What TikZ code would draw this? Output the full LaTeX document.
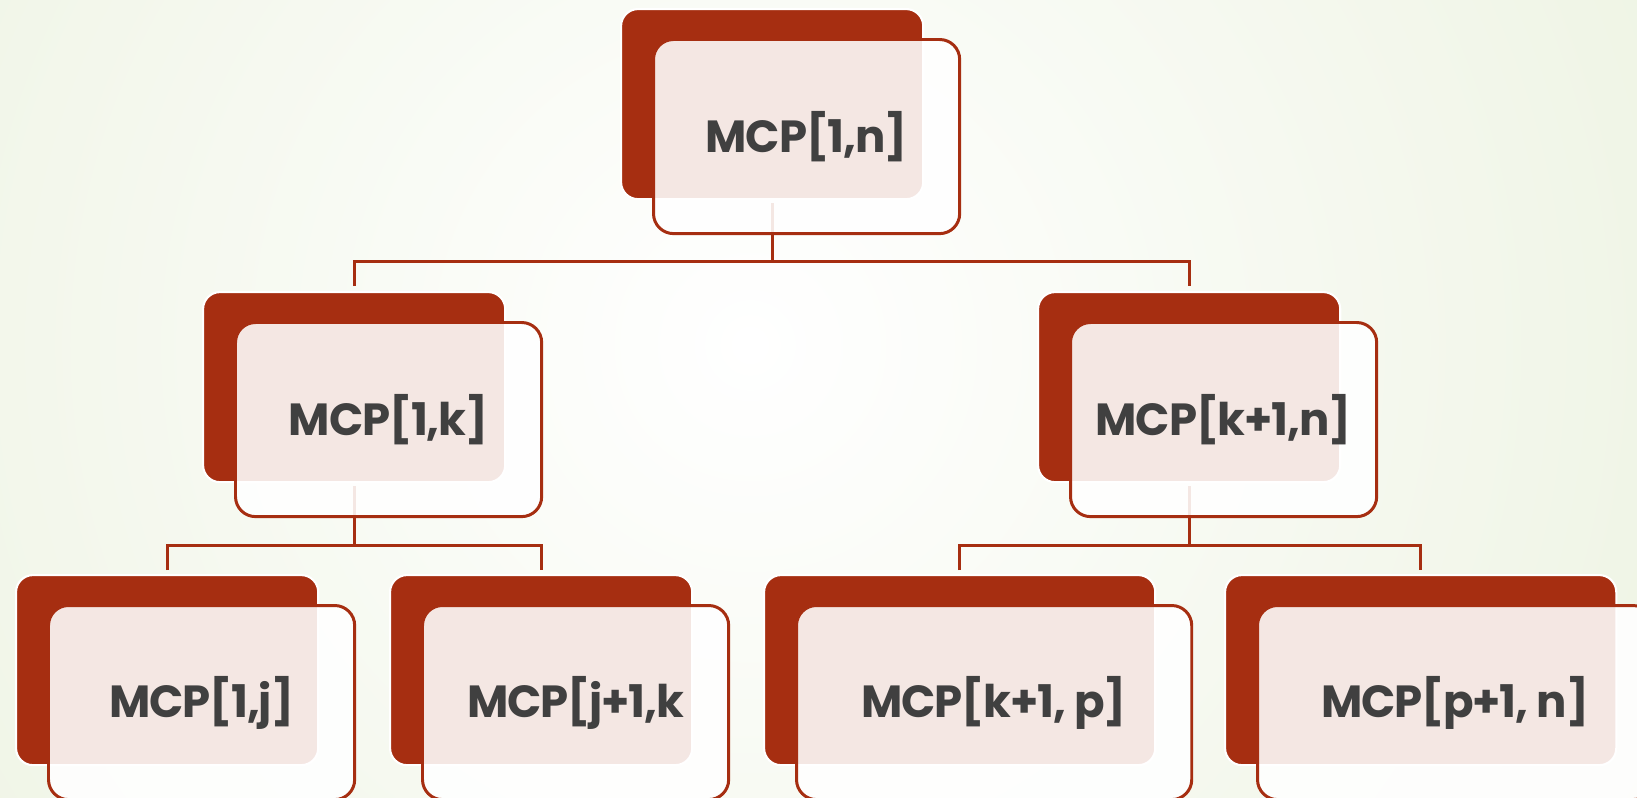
\documentclass[tikz,border=0pt]{standalone}
\usepackage{fontspec}
\setmainfont{Poppins}[BoldFeatures={LetterSpace=-2.5}]
\definecolor{mcpred}{RGB}{166,46,17}
\definecolor{textgray}{RGB}{64,64,64}
\definecolor{bggreen}{RGB}{231,239,216}
\tikzset{
  backbox/.style={draw=white, line width=0.6pt, fill=mcpred,
    rounded corners=1.7mm, minimum width=3.02cm, minimum height=1.90cm,
    anchor=north west, inner sep=0pt},
  frontbox/.style={draw=mcpred, line width=0.85pt, fill=white,
    fill opacity=0.885, text opacity=1, rounded corners=2mm,
    minimum width=3.06cm, minimum height=1.94cm, anchor=north west,
    inner sep=0pt, text=textgray,
    font=\bfseries\fontsize{12.8pt}{15pt}\selectfont},
  wideback/.style={minimum width=3.91cm},
  widefront/.style={minimum width=3.95cm},
  link/.style={draw=mcpred, line width=0.85pt}
}
\begin{document}
\begin{tikzpicture}[x=0.01cm, y=-0.01cm]
\useasboundingbox (0,0) rectangle (1637,797);
\clip (0,0) rectangle (1637,797);
% soft background glow
\shade[inner color=white, outer color=bggreen] (750,345) circle (14.5cm);

% back panels
\node[backbox] (tb) at (620,8) {};
\node[backbox] (ml) at (202,291) {};
\node[backbox] (mr) at (1037,291) {};
\node[backbox] (b1) at (15,574) {};
\node[backbox] (b2) at (389,574) {};
\node[backbox, wideback] (b3) at (763,574) {};
\node[backbox, wideback] (b4) at (1224,574) {};

% tree connectors
\coordinate (jt) at ([yshift=-0.61cm]tb.south);
\coordinate (jl) at ([yshift=-0.62cm]ml.south);
\coordinate (jr) at ([yshift=-0.62cm]mr.south);
\draw[link] ([yshift=-0.03cm]tb.south) -- (jt);
\draw[link] ([yshift=0.05cm]ml.north) |- (jt) -| ([yshift=0.05cm]mr.north);
\draw[link] ([yshift=-0.03cm]ml.south) -- (jl);
\draw[link] ([yshift=0.04cm]b1.north) |- (jl) -| ([yshift=0.04cm]b2.north);
\draw[link] ([yshift=-0.03cm]mr.south) -- (jr);
\draw[link] ([yshift=0.04cm]b3.north) |- (jr) -| ([yshift=0.04cm]b4.north);

% front panels with labels
\node[frontbox] (ft) at (652,38) {MCP[1,n]};
\node[frontbox] (fml) at (234,321) {MCP[1,k]};
\node[frontbox] (fmr) at (1069,321) {MCP[k+1,n]};
\node[frontbox] (f1) at (47,604) {MCP[1,j]};
\node[frontbox] (f2) at (421,604) {MCP[j+1,k};
\node[frontbox, widefront] (f3) at (795,604) {MCP[k+1, p]};
\node[frontbox, widefront] (f4) at (1256,604) {MCP[p+1, n]};
\end{tikzpicture}
\end{document}
